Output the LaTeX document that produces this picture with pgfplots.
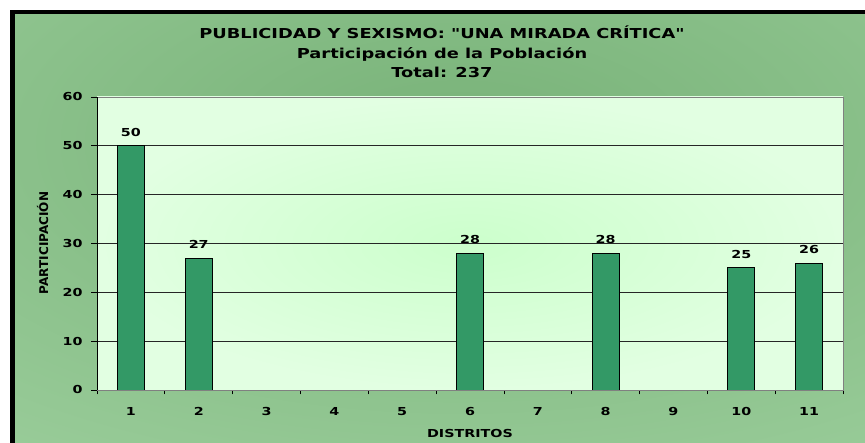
\documentclass[border=0pt]{standalone}
\usepackage{fontspec}
\usepackage{pgfplots}
\pgfplotsset{compat=1.18}
\newfontfamily\hfont{DejaVu Sans}[FakeStretch=1.3]
\newfontfamily\vfont{DejaVu Sans}
\definecolor{bargreen}{RGB}{51,153,102}
\definecolor{outergreen}{RGB}{153,204,153}
\definecolor{darkgreen}{RGB}{120,178,120}
\definecolor{plotin}{RGB}{204,255,204}
\definecolor{plotout}{RGB}{226,255,226}
\begin{document}
\begin{tikzpicture}[x=1pt,y=1pt]
\path[use as bounding box] (0,0) rectangle (865,443);
\fill[white] (0,0) rectangle (865,443);
\fill[outergreen] (10,0) rectangle (865,433);
\begin{scope}
\clip (15,0) rectangle (865,429);
\shade[inner color=darkgreen, outer color=outergreen] (460,300) ellipse (800 and 380);
\end{scope}
\fill[black] (10,428.5) rectangle (865,433);
\fill[black] (10,0) rectangle (15,433);
\begin{axis}[
  at={(97pt,53pt)}, anchor=south west,
  width=746pt, height=293pt, scale only axis,
  xmin=0.5, xmax=11.5, ymin=0, ymax=60,
  axis background/.style={inner color=plotin, outer color=plotout},
  axis line style={draw=gray},
  xtick={1,...,11},
  minor xtick={0.5,1.5,...,11.5},
  major x tick style={draw=none},
  minor x tick style={black, line width=0.8pt},
  minor tick length=4.5pt,
  ytick={0,10,...,60},
  major y tick style={black, line width=0.8pt},
  major tick length=6pt,
  tick align=outside,
  xtick pos=bottom, ytick pos=left,
  ymajorgrids, grid style={black!85, line width=0.7pt},
  /pgf/number format/assume math mode=true,
  ticklabel style={font=\hfont\bfseries\fontsize{11}{13}\selectfont},
  xticklabel style={yshift=-8pt},
  yticklabel style={xshift=-5pt},
  ybar, bar width=27pt,
  nodes near coords,
  every node near coord/.append style={font=\hfont\bfseries\fontsize{11}{13}\selectfont, anchor=base, yshift=9.5pt},
]
\addplot[fill=bargreen, draw=black, line width=0.9pt] coordinates {(1,50) (2,27) (6,28) (8,28) (10,25) (11,26)};
\draw[black, line width=0.8pt] (rel axis cs:0,0) -- (rel axis cs:0,1);
\draw[black, line width=0.8pt] (rel axis cs:0,0) -- (rel axis cs:1,0);
\end{axis}
\node[anchor=base, inner sep=0] at (442,404) {\hfont\bfseries\fontsize{13.7}{16}\selectfont PUBLICIDAD Y SEXISMO: "UNA MIRADA CRÍTICA"};
\node[anchor=base, inner sep=0] at (442,384.5) {\hfont\bfseries\fontsize{13.7}{16}\selectfont Participación de la Población};
\node[anchor=base, inner sep=0] at (442,365) {\hfont\bfseries\fontsize{13.7}{16}\selectfont Total: 237};
\node[anchor=base, inner sep=0] at (470,5) {\hfont\bfseries\fontsize{11}{13}\selectfont DISTRITOS};
\node[anchor=base, inner sep=0, rotate=90] at (48,200) {\vfont\bfseries\fontsize{12}{14}\selectfont PARTICIPACIÓN};
\end{tikzpicture}
\end{document}
